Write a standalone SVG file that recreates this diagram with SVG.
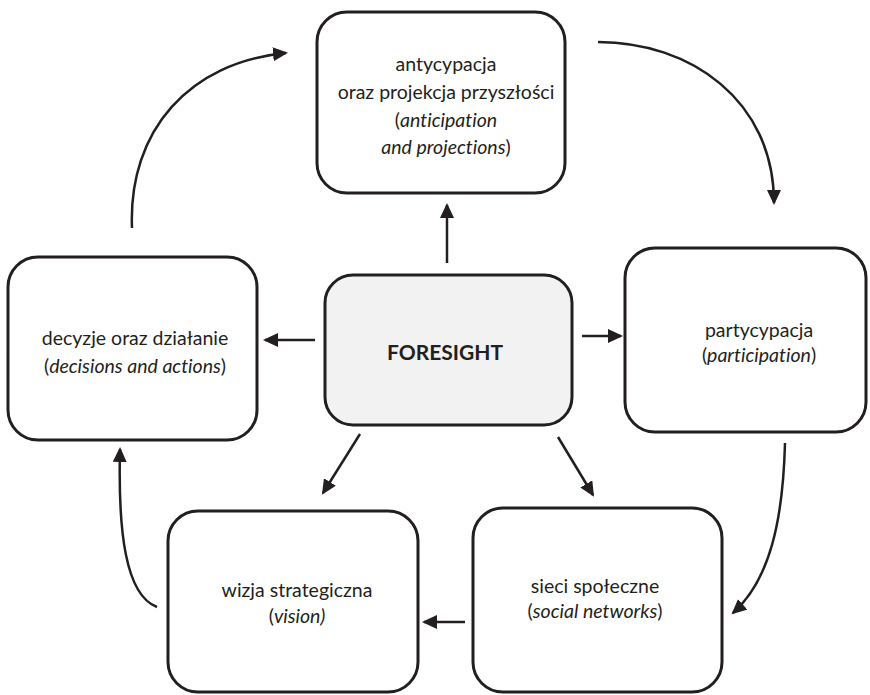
<svg xmlns="http://www.w3.org/2000/svg" width="870" height="695" viewBox="0 0 870 695">
  <style>
    .box { fill: #ffffff; stroke: #231f20; stroke-width: 3; }
    .core { fill: #f2f2f2; }
    .label { font-family: Lato, "Liberation Sans", sans-serif; font-size: 19.5px; fill: #231f20; text-anchor: middle; font-variant-ligatures: none; }
    .title { font-family: Lato, "Liberation Sans", sans-serif; font-size: 21px; font-weight: bold; fill: #231f20; text-anchor: middle; }
    .link { fill: none; stroke: #231f20; stroke-width: 2.5; marker-end: url(#head); }
  </style>
  <defs>
    <marker id="head" markerUnits="userSpaceOnUse" markerWidth="16" markerHeight="15" refX="13" refY="7" orient="auto">
      <path d="M0,0 L15,7 L0,14 z" fill="#231f20"/>
    </marker>
  </defs>

  <rect width="870" height="695" fill="#ffffff"/>

  <g id="connectors">
    <path class="link" d="M447,263 L447,205"/>
    <path class="link" d="M582,336 L621,336"/>
    <path class="link" d="M315,340 L265,340"/>
    <path class="link" d="M360,434 L323,493"/>
    <path class="link" d="M558,437 L593,495"/>
    <path class="link" d="M598,42 C690,42 774,100 774,203"/>
    <path class="link" d="M785,443 C783,520 770,580 733,613"/>
    <path class="link" d="M465,622 L424,622"/>
    <path class="link" d="M157,607 C125,595 118,530 120,449"/>
    <path class="link" d="M132,228 C128,130 190,62 286,53"/>
  </g>

  <g id="anticipation">
    <rect class="box" x="317" y="12" width="248" height="181" rx="30"/>
    <text class="label" x="446" y="71">antycypacja</text>
    <text class="label" x="446" y="99">oraz projekcja przyszłości</text>
    <text class="label" x="446" y="127">(<tspan font-style="italic">anticipation</tspan></text>
    <text class="label" x="446" y="154"><tspan font-style="italic">and projections</tspan>)</text>
  </g>

  <g id="foresight">
    <rect class="box core" x="325" y="275" width="247" height="150" rx="28"/>
    <text class="title" x="445" y="360">FORESIGHT</text>
  </g>

  <g id="decisions">
    <rect class="box" x="8" y="257" width="249" height="183" rx="30"/>
    <text class="label" x="135" y="345">decyzje oraz działanie</text>
    <text class="label" x="135" y="373">(<tspan font-style="italic">decisions and actions</tspan>)</text>
  </g>

  <g id="participation">
    <rect class="box" x="625" y="248" width="241" height="184" rx="30"/>
    <text class="label" x="759" y="337">partycypacja</text>
    <text class="label" x="759" y="362">(<tspan font-style="italic">participation</tspan>)</text>
  </g>

  <g id="social-networks">
    <rect class="box" x="473" y="508" width="249" height="184" rx="30"/>
    <text class="label" x="595" y="593">sieci społeczne</text>
    <text class="label" x="595" y="618">(<tspan font-style="italic">social networks</tspan>)</text>
  </g>

  <g id="vision">
    <rect class="box" x="168" y="511" width="250" height="181" rx="30"/>
    <text class="label" x="297" y="597">wizja strategiczna</text>
    <text class="label" x="297" y="623">(<tspan font-style="italic">vision)</tspan></text>
  </g>
</svg>
